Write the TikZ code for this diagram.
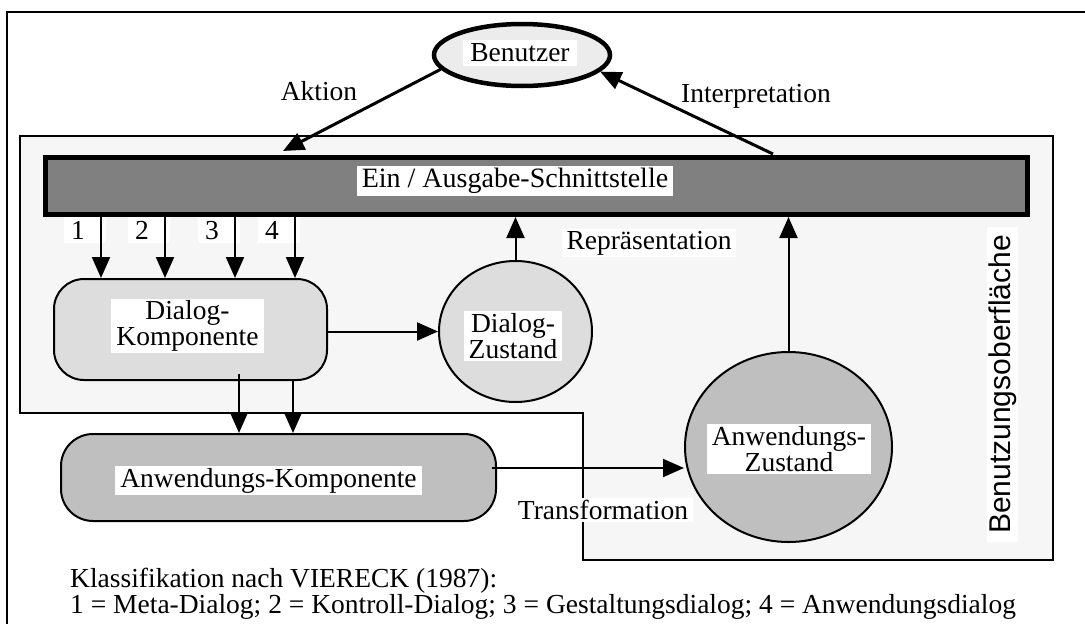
\documentclass[tikz,border=0pt]{standalone}
\usepackage{fontspec}
\setmainfont{Liberation Serif}
\setsansfont{Liberation Sans}
\usetikzlibrary{shapes.geometric,arrows.meta}

\definecolor{panelgray}{gray}{0.965}
\definecolor{bargray}{gray}{0.5}
\definecolor{usergray}{gray}{0.925}
\definecolor{dlggray}{gray}{0.865}
\definecolor{anwgray}{gray}{0.75}

\tikzset{
    txt/.style={fill=white, inner xsep=5pt, inner ysep=2pt, align=center,
        font=\fontsize{27.5}{26}\selectfont},
    lbl/.style={inner sep=0pt, font=\fontsize{27.5}{27.5}\selectfont},
    num/.style={fill=white, inner xsep=7pt, inner ysep=0pt, text width=28pt,
        minimum height=26pt, font=\fontsize{27.5}{27.5}\selectfont},
    conn/.style={line width=2pt, -{Triangle[length=21pt,width=18pt]}},
    part/.style={draw, line width=2pt, inner sep=0pt},
}

\begin{document}
\begin{tikzpicture}[x=1pt,y=-1pt]
    \useasboundingbox (0,0) rectangle (1085,624);
    \clip (0,0) rectangle (1085,624);

    \draw [line width=2.5pt] (7,640) -- (7,12) -- (1100,12);
    \draw [line width=2pt, fill=panelgray] (20,136) -- (1053,136) -- (1053,560)
        -- (583,560) -- (583,413) -- (20,413) -- cycle;

    \node [draw, line width=5pt, fill=bargray, inner sep=0pt,
        minimum width=982pt, minimum height=57pt] (io) at (536.5,186) {};
    \node [txt, font=\fontsize{28}{28}\selectfont] (iotext) at (515,181) {Ein / Ausgabe-Schnittstelle};

    \node [ellipse, draw, line width=4.5pt, fill=usergray, inner sep=0pt,
        minimum width=176pt, minimum height=62pt] (user) at (522,55) {};
    \node [txt, inner xsep=7pt, inner ysep=4pt] (usertext) at (520,53) {Benutzer};

    \node [part, rounded corners=30pt, fill=dlggray,
        minimum width=273pt, minimum height=101pt] (dk) at (190.5,329.5) {};
    \node [txt] (dktext) at (187.5,326) {Dialog-\\Komponente};

    \node [part, ellipse, fill=dlggray,
        minimum width=153pt, minimum height=141pt] (dz) at (515.5,331.5) {};
    \node [txt] (dztext) at (513,336) {Dialog-\\Zustand};

    \node [part, rounded corners=32pt, fill=anwgray,
        minimum width=435pt, minimum height=87pt] (ak) at (278.5,477.5) {};
    \node [txt] (aktext) at (268.5,480.5) {Anwendungs-Komponente};

    \node [part, ellipse, fill=anwgray,
        minimum width=207pt, minimum height=190pt] (az) at (788.5,447) {};
    \node [txt] (aztext) at (789,449) {Anwendungs-\\Zustand};

    \node [txt, rotate=90, inner xsep=8pt, font=\sffamily\fontsize{30}{30}\selectfont]
        (ui) at (1002.5,384.5) {Benutzungsoberfläche};

    \node [lbl] (aktion) at (319,91) {Aktion};
    \node [lbl] (interp) at (756,96) {Interpretation};
    \node [txt] (repr) at (649,243) {Repräsentation};
    \node [txt] (trans) at (603,510) {Transformation};

    \coordinate (aktionEnd) at (283,151);
    \coordinate (interStart) at (773,154);
    \draw [conn, line width=3pt] (user.190) -- (aktionEnd);
    \draw [conn, line width=3pt] (interStart) -- (user.348);

    \foreach \x/\n in {101/1,165/2,235/3,295/4}{%
        \node [num, anchor=north west] (n\n) at (\x-37,217) {\n};
        \coordinate (t\n) at (\x,217);
        \draw [conn] (t\n) -- (t\n |- dk.north);}

    \draw [conn] (dk.east |- dz.west) -- (dz.west);
    \draw [conn] (dz.north) -- (dz.north |- io.south);
    \draw [conn] (az.north) -- (az.north |- io.south);

    \coordinate (d1) at (239,374);
    \coordinate (d2) at (293,381);
    \draw [conn] (d1) -- (d1 |- ak.north);
    \draw [conn] (d2) -- (d2 |- ak.north);

    \coordinate (tr) at (492,468);
    \draw [conn] (tr) -- (tr -| az.west);

    \node [lbl, anchor=base west] (legendA) at (70,587) {Klassifikation nach VIERECK (1987):};
    \node [lbl, anchor=base west] (legendB) at (70,613) {1 = Meta-Dialog; 2 = Kontroll-Dialog; 3 = Gestaltungsdialog; 4 = Anwendungsdialog};
\end{tikzpicture}
\end{document}
